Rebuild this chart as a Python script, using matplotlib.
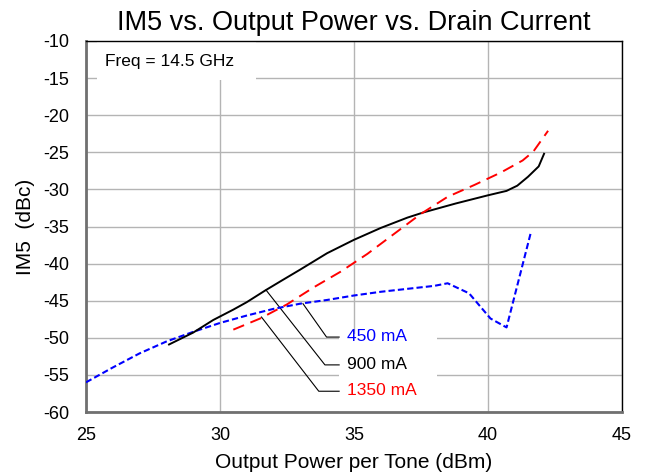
import matplotlib
matplotlib.use('Agg')
import matplotlib.pyplot as plt
from matplotlib.patches import Rectangle

plt.rcParams['font.family'] = ['Liberation Sans', 'DejaVu Sans']
plt.rcParams['axes.unicode_minus'] = False

# 450 mA
pout_450 = [25.0, 26.0, 27.0, 28.0, 29.0, 30.0, 31.0, 32.0, 33.0, 34.0, 35.0,
            36.0, 37.0, 38.0, 38.5, 39.3, 40.1, 40.7, 41.6]
im5_450 = [-56.0, -54.0, -52.1, -50.5, -49.2, -48.0, -47.0, -46.1, -45.4, -44.9,
           -44.3, -43.8, -43.4, -43.0, -42.65, -44.0, -47.4, -48.6, -35.9]

# 900 mA
pout_900 = [28.1, 29.0, 29.75, 30.5, 31.0, 31.7, 32.3, 33.0, 33.5, 34.0, 34.5,
            35.0, 35.5, 36.0, 36.5, 37.0, 37.6, 38.8, 40.0, 40.7, 41.1, 41.5,
            41.9, 42.1]
im5_900 = [-50.9, -49.3, -47.6, -46.2, -45.2, -43.6, -42.3, -40.8, -39.7, -38.6,
           -37.7, -36.8, -36.0, -35.2, -34.5, -33.8, -33.1, -31.9, -30.8, -30.2,
           -29.5, -28.3, -26.9, -25.2]

# 1350 mA
pout_1350 = [30.5, 31.5, 32.5, 33.5, 34.5, 35.5, 36.5, 37.5, 38.5, 39.5, 40.5,
             41.3, 41.7, 42.25]
im5_1350 = [-48.9, -47.4, -45.5, -43.2, -41.1, -38.7, -36.0, -33.3, -31.0, -29.4,
            -27.7, -26.1, -24.9, -22.1]

labels = ['450 mA', '900 mA', '1350 mA']
label_colors = ['#0000ff', 'black', '#ff0000']
# leader line: point on curve, then elbow
leader_start = [(33.1, -45.4), (31.72, -43.56), (31.55, -47.2)]
leader_elbow = [(33.98, -49.9), (33.92, -53.65), (33.69, -57.2)]

fig = plt.figure(figsize=(6.49, 4.75), dpi=100)
ax = fig.add_axes([0.1325, 0.1326, 0.8255, 0.7811])

ax.set_xlim(25, 45)
ax.set_ylim(-60, -10)
ax.set_xticks([25, 30, 35, 40, 45])
ax.set_yticks(range(-60, -9, 5))
ax.tick_params(length=0, labelsize=13)
ax.tick_params(axis='x', pad=11)
ax.tick_params(axis='y', pad=12)
ax.grid(True, color='#b4b4b4', linewidth=1.0)
ax.set_axisbelow(True)

for side in ['left', 'bottom']:
    ax.spines[side].set_color('#707070')
    ax.spines[side].set_linewidth(2)
for side in ['top', 'right']:
    ax.spines[side].set_color('black')
    ax.spines[side].set_linewidth(1)

ax.plot(pout_450, im5_450, color='#0000ff', linewidth=1.5,
        dashes=(3, 1.5), zorder=3)
ax.plot(pout_900, im5_900, color='black', linewidth=1.4, zorder=3)
ax.plot(pout_1350, im5_1350, color='#ff0000', linewidth=1.4,
        dashes=(6, 3.5), zorder=3)

# white boxes hiding the grid behind the text
ax.add_patch(Rectangle((34.45, -60), 3.65, 10.5, facecolor='white',
                       edgecolor='none', zorder=1.5))
ax.add_patch(Rectangle((25.4, -15.3), 5.95, 5.3, facecolor='white',
                       edgecolor='none', zorder=1.5))

for i in range(3):
    x0, y0 = leader_start[i]
    x1, y1 = leader_elbow[i]
    ax.plot([x0, x1, 34.45], [y0, y1, y1], color='black', linewidth=0.8, zorder=2)
    ax.text(34.75, y1 + 0.1, labels[i], color=label_colors[i], fontsize=12.5,
            va='center', ha='left', zorder=4)

ax.text(25.7, -12.8, 'Freq = 14.5 GHz', fontsize=12.5, va='center', ha='left',
        zorder=4)

ax.set_title('IM5 vs. Output Power vs. Drain Current', fontsize=19.5, pad=8)
ax.set_xlabel('Output Power per Tone (dBm)', fontsize=15, labelpad=6)
ax.set_ylabel('IM5  (dBc)', fontsize=15, labelpad=6)

fig.savefig('out.png', dpi=100)
